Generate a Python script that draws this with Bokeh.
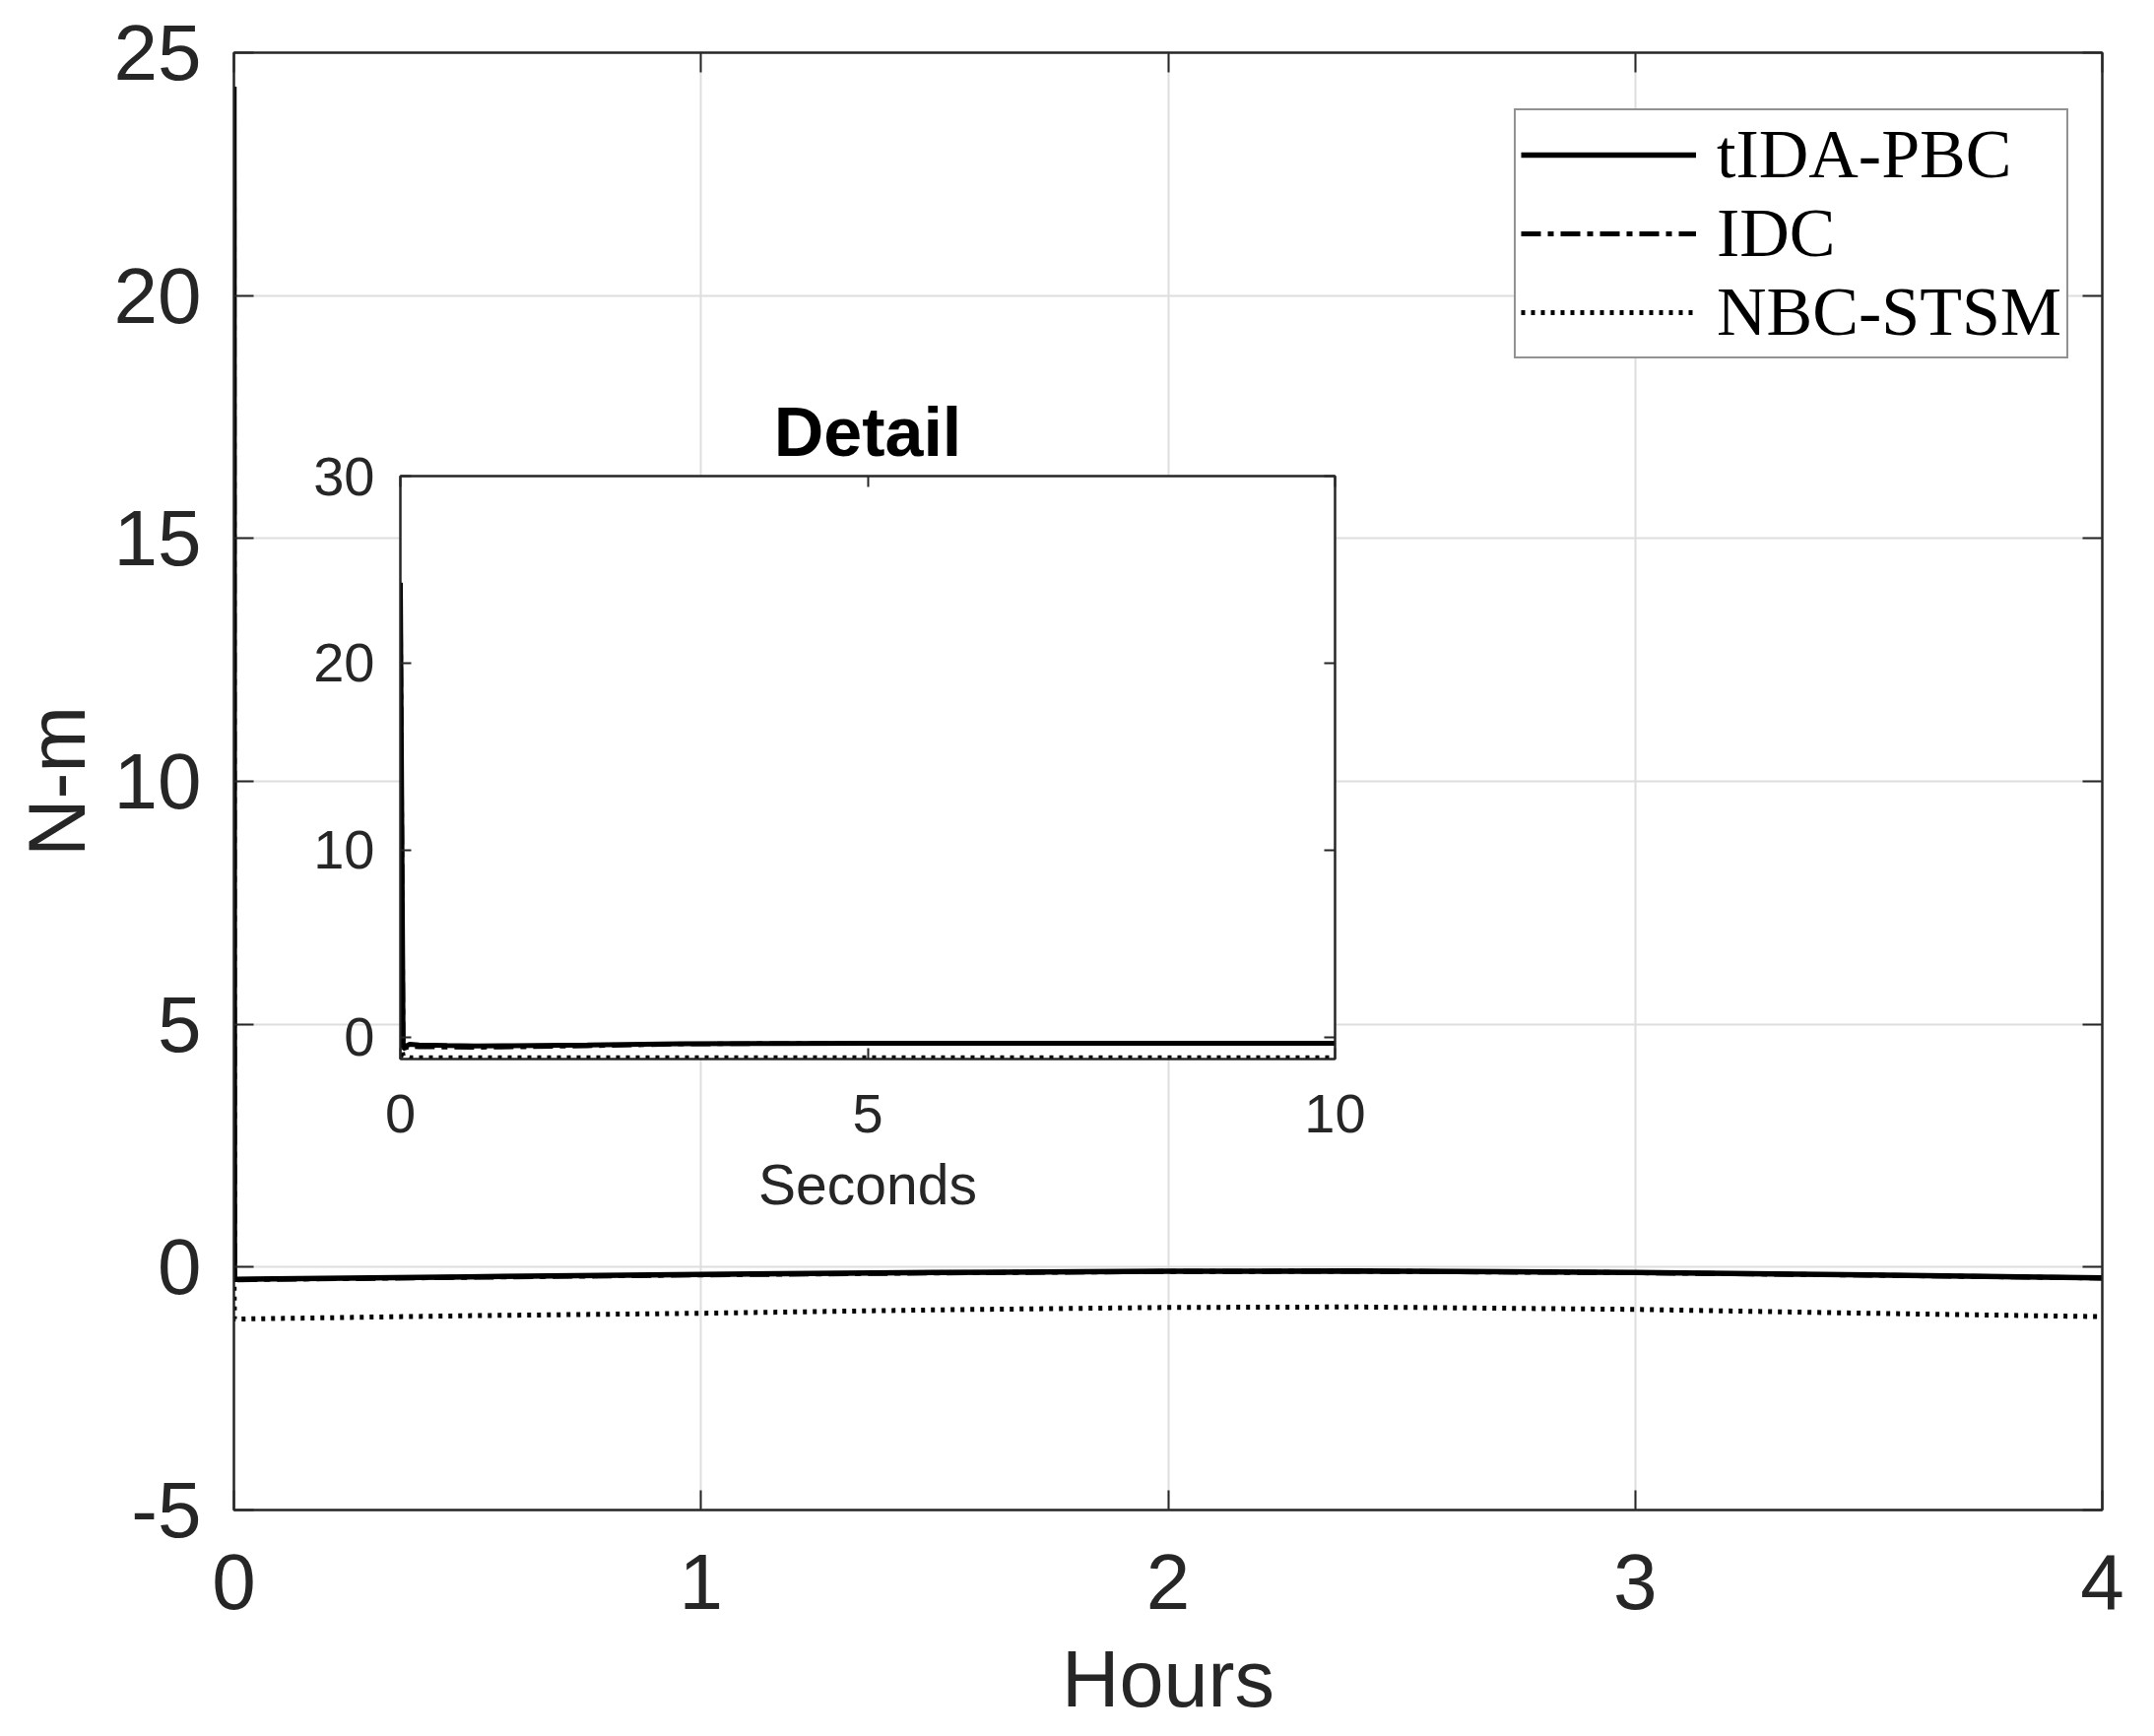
from bokeh.plotting import figure
from bokeh.models import Range1d, LinearAxis, FixedTicker, Legend, LegendItem
from bokeh.embed import file_html
from bokeh.resources import INLINE

# ---------------- data ----------------
# main plot: time in hours
hours = [0.0, 0.0012, 0.5, 1.0, 1.5, 2.0, 2.4, 3.0, 3.5, 4.0]
tida_pbc_main = [24.3, -0.25, -0.20, -0.15, -0.11, -0.085, -0.08, -0.11, -0.16, -0.22]
idc_main = [24.0, -0.26, -0.21, -0.16, -0.12, -0.09, -0.085, -0.115, -0.165, -0.225]
nbc_stsm_main = [0.0, -1.07, -1.00, -0.95, -0.88, -0.83, -0.82, -0.87, -0.95, -1.02]

# inset: time in seconds
seconds = [0.0, 0.03, 0.1, 0.2, 0.5, 0.8, 1.2, 2.0, 3.0, 4.0, 5.0, 7.5, 10.0]
tida_pbc_det = [24.3, -0.55, -0.38, -0.42, -0.45, -0.47, -0.46, -0.42, -0.36, -0.34, -0.33, -0.33, -0.33]
idc_det = [24.0, -0.62, -0.50, -0.52, -0.54, -0.55, -0.53, -0.47, -0.37, -0.34, -0.33, -0.33, -0.33]
nbc_stsm_det = [-0.30, -1.00, -1.10, -1.10, -1.10, -1.10, -1.10, -1.10, -1.10, -1.10, -1.10, -1.10, -1.10]

series_names = ["tIDA-PBC", "IDC", "NBC-STSM"]
main_x_ticks = [0, 1, 2, 3, 4]
main_y_ticks = [-5, 0, 5, 10, 15, 20, 25]
det_x_ticks = [0, 5, 10]
det_y_ticks = [0, 10, 20, 30]

# ---------------- style ----------------
TXT = "#262626"
FONT = "Liberation Sans"
SOLID, DASHDOT, DOTTED = "solid", "20 7 6 7", "4 6"


def style_axis(ax, ticks, fs, standoff, tick_in, hide=False):
    ax.ticker = FixedTicker(ticks=ticks)
    ax.axis_line_color = TXT
    ax.axis_line_width = 2
    ax.major_tick_line_color = TXT
    ax.major_tick_line_width = 2
    ax.major_tick_in = tick_in
    ax.major_tick_out = 0
    ax.minor_tick_line_color = None
    ax.major_label_text_font = FONT
    ax.major_label_text_color = TXT
    ax.major_label_text_font_size = fs
    ax.major_label_standoff = standoff
    ax.major_label_overrides = {t: str(t) for t in ticks}
    if hide:
        ax.major_label_text_color = None
        ax.major_label_text_font_size = "1px"
        ax.major_label_standoff = 0


# ---------------- main figure ----------------
p = figure(output_backend="svg", toolbar_location=None,
           x_range=Range1d(0, 4), y_range=Range1d(-5, 25),
           frame_width=1897, frame_height=1480,
           min_border_left=237, min_border_top=53, min_border_right=45, min_border_bottom=205)
p.background_fill_color = "white"
p.border_fill_color = "white"
p.outline_line_color = TXT
p.outline_line_width = 2

style_axis(p.xaxis[0], main_x_ticks, "80px", 45, 20)
style_axis(p.yaxis[0], main_y_ticks, "80px", 33, 20)
p.xaxis[0].axis_label = "Hours"
p.yaxis[0].axis_label = "N-m"
for ax in (p.xaxis[0], p.yaxis[0]):
    ax.axis_label_text_font = FONT
    ax.axis_label_text_font_style = "normal"
    ax.axis_label_text_color = TXT
    ax.axis_label_text_font_size = "81px"
p.xaxis[0].axis_label_standoff = 23
p.yaxis[0].axis_label_standoff = 10

top_ax = LinearAxis()
right_ax = LinearAxis()
style_axis(top_ax, main_x_ticks, "1px", 0, 20, hide=True)
style_axis(right_ax, main_y_ticks, "1px", 0, 20, hide=True)
p.add_layout(top_ax, "above")
p.add_layout(right_ax, "right")

p.xgrid.ticker = FixedTicker(ticks=main_x_ticks)
p.ygrid.ticker = FixedTicker(ticks=main_y_ticks)
for g in (p.xgrid[0], p.ygrid[0]):
    g.grid_line_color = "#dedede"
    g.grid_line_width = 2

r_idc = p.line(hours, idc_main, line_color="black", line_width=5, line_dash=DASHDOT)
r_nbc = p.line(hours, nbc_stsm_main, line_color="black", line_width=5, line_dash=DOTTED)
r_tida = p.line(hours, tida_pbc_main, line_color="black", line_width=5.5, line_dash=SOLID)

legend = Legend(items=[LegendItem(label=series_names[0], renderers=[r_tida]),
                       LegendItem(label=series_names[1], renderers=[r_idc]),
                       LegendItem(label=series_names[2], renderers=[r_nbc])],
                location=(1300, 1169))
legend.label_text_font = "Liberation Serif"
legend.label_text_font_size = "70px"
legend.label_text_color = "black"
legend.glyph_width = 178
legend.glyph_height = 78
legend.label_height = 78
legend.label_standoff = 21
legend.spacing = 0
legend.padding = 5
legend.margin = 0
legend.border_line_color = TXT
legend.border_line_width = 2
legend.background_fill_color = "white"
legend.background_fill_alpha = 1
p.add_layout(legend)

# ---------------- inset figure ----------------
IL, IT = 100, 100
d = figure(output_backend="svg", toolbar_location=None,
           x_range=Range1d(0, 10), y_range=Range1d(-1.17, 30),
           frame_width=949, frame_height=592,
           min_border_left=IL, min_border_top=IT, min_border_right=45, min_border_bottom=180)
d.background_fill_color = "white"
d.border_fill_alpha = 0
d.outline_line_color = TXT
d.outline_line_width = 2
d.xgrid.visible = False
d.ygrid.visible = False
style_axis(d.xaxis[0], det_x_ticks, "56px", 36, 11)
style_axis(d.yaxis[0], det_y_ticks, "56px", 26, 11)
d.xaxis[0].axis_label = "Seconds"
d.xaxis[0].axis_label_text_font = FONT
d.xaxis[0].axis_label_text_font_style = "normal"
d.xaxis[0].axis_label_text_color = TXT
d.xaxis[0].axis_label_text_font_size = "57px"
d.xaxis[0].axis_label_standoff = 18
d_top = LinearAxis()
d_right = LinearAxis()
style_axis(d_top, det_x_ticks, "1px", 0, 11, hide=True)
style_axis(d_right, det_y_ticks, "1px", 0, 11, hide=True)
d.add_layout(d_top, "above")
d.add_layout(d_right, "right")
d.title.text = "Detail"
d.title.text_font = FONT
d.title.text_font_style = "bold"
d.title.text_font_size = "70px"
d.title.text_color = "black"
d.title.align = "center"
d.title.standoff = 12

d.line(seconds, idc_det, line_color="black", line_width=4.5, line_dash=DASHDOT)
d.line(seconds, nbc_stsm_det, line_color="black", line_width=5, line_dash=DOTTED)
d.line(seconds, tida_pbc_det, line_color="black", line_width=5, line_dash=SOLID)

d.styles = {"position": "absolute", "left": f"{406 - IL}px", "top": f"{483 - IT}px"}

open("out.html", "w").write(file_html([p, d], INLINE))
